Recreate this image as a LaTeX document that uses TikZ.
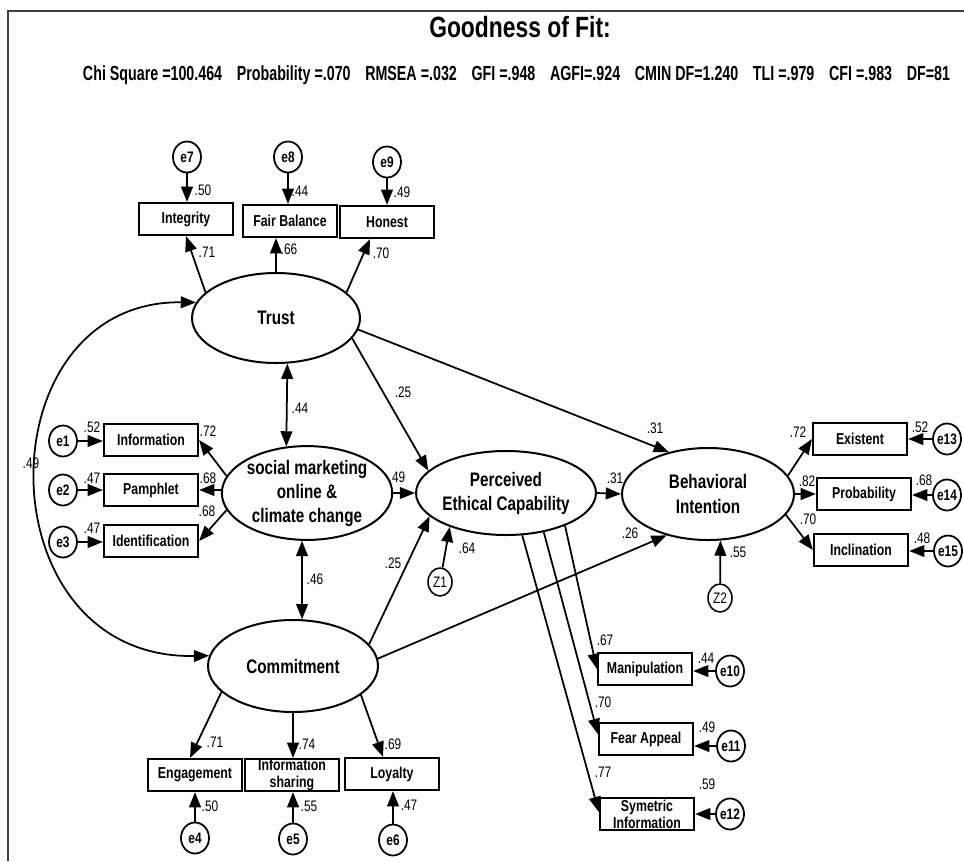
\documentclass[tikz,border=0pt]{standalone}
\usepackage{fontspec}
\setmainfont{Liberation Sans}[FakeStretch=0.78]
\newfontfamily\fitfont{Liberation Sans}[FakeStretch=0.7]
\usetikzlibrary{shapes.geometric,arrows.meta,calc}
\begin{document}
\begin{tikzpicture}[x=0.03cm,y=-0.03cm,
  lat/.style={ellipse, draw, line width=1.7pt, inner sep=0pt, align=center, font=\bfseries\fontsize{16.7}{20.5}\selectfont},
  obs/.style={rectangle, draw, line width=1.9pt, minimum width=2.82cm, minimum height=0.96cm, inner sep=0pt, align=center, font=\bfseries\fontsize{13.5}{14.5}\selectfont},
  err/.style={ellipse, draw, line width=1.5pt, minimum width=0.84cm, minimum height=0.93cm, inner sep=0pt, font=\bfseries\fontsize{13}{14}\selectfont},
  zerr/.style={ellipse, draw, line width=1.3pt, minimum width=0.72cm, minimum height=0.84cm, inner sep=0pt, font=\fontsize{13}{14}\selectfont},
  lbl/.style={inner sep=0pt, font=\fontsize{13}{14}\selectfont},
  arr/.style={line width=1.5pt, -{Triangle[length=13pt,width=10pt]}},
  dbl/.style={line width=1.5pt, {Triangle[length=13pt,width=10pt]}-{Triangle[length=13pt,width=10pt]}}
]
\useasboundingbox (0,0) rectangle (964,861);
\fill[white] (0,0) rectangle (964,861);
% frame
\draw[black!75, line width=1.3pt] (8,861) -- (8,11) -- (964,11);

% header
\node[font=\bfseries\fontsize{25}{27}\selectfont, inner sep=0pt] (title) at (520,27) {Goodness of Fit:};
\node[font=\fitfont\bfseries\fontsize{17.4}{19}\selectfont, inner sep=0pt] (fit) at (516.5,75)
  {\makebox[26.01cm][s]{Chi Square =100.464\hfill Probability =.070\hfill RMSEA =.032\hfill GFI =.948\hfill AGFI=.924\hfill CMIN DF=1.240\hfill TLI =.979\hfill CFI =.983\hfill DF=81}};

% latent variables
\node[lat, minimum width=5.04cm, minimum height=2.7cm] (trust) at (276,318) {Trust};
\node[lat, minimum width=5.1cm, minimum height=2.76cm] (sm) at (307,493) {social marketing\\online \&\\climate change};
\node[lat, minimum width=5.1cm, minimum height=2.52cm] (pec) at (506,493) {Perceived\\Ethical Capability};
\node[lat, minimum width=5.16cm, minimum height=2.76cm] (bi) at (708,494) {Behavioral\\Intention};
\node[lat, minimum width=5.1cm, minimum height=2.76cm] (commit) at (293,666) {Commitment};

% observed: trust
\node[obs] (integrity) at (186,219) {Integrity};
\node[obs] (fairbal) at (290,221) {Fair Balance};
\node[obs] (honest) at (387,222) {Honest};
\node[err] (e7) at (187,157) {e7};
\node[err] (e8) at (288,157) {e8};
\node[err] (e9) at (387,162) {e9};

% observed: social marketing
\node[obs] (info) at (151,440) {Information};
\node[obs] (pamph) at (151,490) {Pamphlet};
\node[obs] (ident) at (151,541) {Identification};
\node[err] (e1) at (63,441) {e1};
\node[err] (e2) at (63,490) {e2};
\node[err] (e3) at (63,542) {e3};

% observed: commitment
\node[obs] (engage) at (195,775) {Engagement};
\node[obs] (infoshare) at (292,775) {Information\\sharing};
\node[obs] (loyalty) at (392,774) {Loyalty};
\node[err] (e4) at (195,838) {e4};
\node[err] (e5) at (293,839) {e5};
\node[err] (e6) at (393,840) {e6};

% observed: PEC
\node[obs] (manip) at (645,669) {Manipulation};
\node[obs] (fear) at (646,739) {Fear Appeal};
\node[obs] (sym) at (647,814) {Symetric\\Information};
\node[err] (e10) at (730,671) {e10};
\node[err] (e11) at (731,746) {e11};
\node[err] (e12) at (730,814) {e12};

% observed: BI
\node[obs] (existent) at (860,439) {Existent};
\node[obs] (prob) at (864,494) {Probability};
\node[obs] (incl) at (861,550) {Inclination};
\node[err] (e13) at (947,439) {e13};
\node[err] (e14) at (947,495) {e14};
\node[err] (e15) at (948,551) {e15};

% disturbances
\node[zerr] (z1) at (440,582) {Z1};
\node[zerr] (z2) at (720,598) {Z2};

% error arrows
\draw[arr] (e7) -- (e7 |- integrity.north);
\draw[arr] (e8) -- (e8 |- fairbal.north);
\draw[arr] (e9) -- (e9 |- honest.north);
\draw[arr] (e1) -- (e1 -| info.west);
\draw[arr] (e2) -- (e2 -| pamph.west);
\draw[arr] (e3) -- (e3 -| ident.west);
\draw[arr] (e4) -- (e4 |- engage.south);
\draw[arr] (e5) -- (e5 |- infoshare.south);
\draw[arr] (e6) -- (e6 |- loyalty.south);
\draw[arr] (e10) -- (e10 -| manip.east);
\draw[arr] (e11) -- (e11 -| fear.east);
\draw[arr] (e12) -- (e12 -| sym.east);
\draw[arr] (e13) -- (e13 -| existent.east);
\draw[arr] (e14) -- (e14 -| prob.east);
\draw[arr] (e15) -- (e15 -| incl.east);
\draw[arr] (z1) -- (pec.211);
\draw[arr] (z2) -- (bi.285);

% loadings
\draw[arr] (trust.160) -- (integrity.south);
\draw[arr] (trust.north) -- (trust.north |- fairbal.south);
\draw[arr] (trust.20) -- ($(honest.south)+(-17,0)$);
\draw[arr] (sm.168) -- (info.east);
\draw[arr] (sm.west |- pamph.east) -- (pamph.east);
\draw[arr] (sm.192) -- (ident.east);
\draw[arr] (commit.200) -- ($(engage.north)+(-5,0)$);
\draw[arr] (commit.south) -- (commit.south |- infoshare.north);
\draw[arr] (commit.337) -- ($(loyalty.north)+(-9,0)$);
\draw[arr] (pec.331) -- (manip.west);
\draw[arr] (pec.314) -- ($(fear.west)+(0,-5)$);
\draw[arr] (pec.291) -- ($(sym.west)+(0,-2)$);
\draw[arr] (bi.13) -- (existent.west);
\draw[arr] (bi.east |- prob.west) -- (prob.west);
\draw[arr] (bi.345) -- (incl.west);

% structural paths
\draw[arr] (sm.east) -- (pec.west);
\draw[arr] (pec.east) -- (bi.west);
\draw[arr] (trust.345) -- (pec.164);
\draw[arr] (trust.352) -- (bi.133);
\draw[arr] (commit.16) -- (pec.197);
\draw[arr] (commit.5) -- (bi.225);

% correlations
\draw[dbl] (trust.284) -- (sm.114);
\draw[dbl] (sm.264) -- (commit.79);
\draw[dbl] (trust.169) .. controls (-18,300) and (-18,660) .. (commit.173);

% labels
\node[lbl] (l1) at (203,190) {.50};
\node[lbl] (l2) at (300,191) {.44};
\node[lbl] (l3) at (402,192) {.49};
\node[lbl] (l4) at (207,252) {.71};
\node[lbl] (l5) at (289,249) {.66};
\node[lbl] (l6) at (381,253) {.70};
\node[lbl] (l7) at (92,427) {.52};
\node[lbl] (l8) at (92,478) {.47};
\node[lbl] (l9) at (92,528) {.47};
\node[lbl] (l10) at (208,431) {.72};
\node[lbl] (l11) at (208,478) {.68};
\node[lbl] (l12) at (207,511) {.68};
\node[lbl] (l13) at (300,408) {.44};
\node[lbl] (l14) at (397,477) {.49};
\node[lbl] (l15) at (31,463) {.49};
\node[lbl] (l16) at (403,392) {.25};
\node[lbl] (l17) at (655,428) {.31};
\node[lbl] (l18) at (615,478) {.31};
\node[lbl] (l19) at (393,563) {.25};
\node[lbl] (l20) at (630,533) {.26};
\node[lbl] (l21) at (467,548) {.64};
\node[lbl] (l22) at (315,579) {.46};
\node[lbl] (l23) at (215,742) {.71};
\node[lbl] (l24) at (307,744) {.74};
\node[lbl] (l25) at (393,744) {.69};
\node[lbl] (l26) at (210,806) {.50};
\node[lbl] (l27) at (309,806) {.55};
\node[lbl] (l28) at (409,805) {.47};
\node[lbl] (l29) at (738,552) {.55};
\node[lbl] (l30) at (798,432) {.72};
\node[lbl] (l31) at (807,481) {.82};
\node[lbl] (l32) at (808,519) {.70};
\node[lbl] (l33) at (920,427) {.52};
\node[lbl] (l34) at (924,480) {.68};
\node[lbl] (l35) at (922,538) {.48};
\node[lbl] (l36) at (605,640) {.67};
\node[lbl] (l37) at (603,702) {.70};
\node[lbl] (l38) at (603,772) {.77};
\node[lbl] (l39) at (706,658) {.44};
\node[lbl] (l40) at (707,727) {.49};
\node[lbl] (l41) at (707,784) {.59};
\end{tikzpicture}
\end{document}
